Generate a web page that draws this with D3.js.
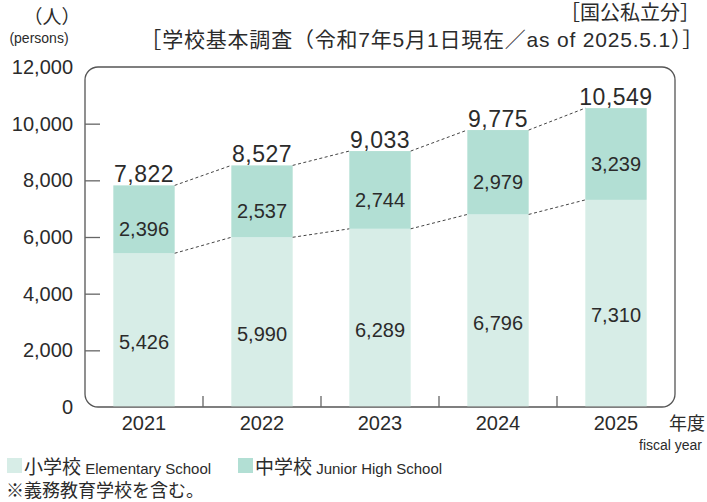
<!DOCTYPE html>
<html>
<head>
<meta charset="utf-8">
<script src="https://cdn.jsdelivr.net/npm/d3@7"></script>
<style>
  body { margin: 0; background: #fff; }
  svg text { font-family: "Liberation Sans", "Noto Sans CJK JP", sans-serif; fill: #2b2b2b; }
</style>
</head>
<body>
<svg id="chart" width="707" height="502"></svg>
<script>
const years = ['2021', '2022', '2023', '2024', '2025']
const elementary = [5426, 5990, 6289, 6796, 7310]
const junior = [2396, 2537, 2744, 2979, 3239]
const yTicks = [0, 2000, 4000, 6000, 8000, 10000, 12000]

const colors = { elementary: '#d7ede7', junior: '#b2dfd4' }

const svg = d3.select('#chart')
const frame = { left: 85, right: 675, top: 67, bottom: 407 }

const x = d3.scaleBand()
  .domain(years)
  .range([frame.left, frame.right])
  .paddingInner(0.48)
  .paddingOuter(0.24)

const y = d3.scaleLinear()
  .domain([0, 12000])
  .range([frame.bottom, frame.top])

const fmt = d3.format(',')

const rows = years.map((year, i) => ({
  year,
  elementary: elementary[i],
  junior: junior[i],
  total: elementary[i] + junior[i]
}))

// frame with rounded corners
svg.append('rect')
  .attr('x', frame.left)
  .attr('y', frame.top)
  .attr('width', frame.right - frame.left)
  .attr('height', frame.bottom - frame.top)
  .attr('rx', 13)
  .attr('fill', 'none')
  .attr('stroke', '#555')
  .attr('stroke-width', 1.3)

// y axis (ticks inward)
const yAxis = svg.append('g')
  .attr('transform', `translate(${frame.left},0)`)
  .call(d3.axisLeft(y).tickValues(yTicks).tickFormat(fmt).tickSizeInner(-15).tickSizeOuter(0).tickPadding(12))
yAxis.select('.domain').remove()
yAxis.selectAll('.tick line')
  .attr('stroke', '#666')
  .attr('stroke-width', 1.3)
  .attr('display', d => (d === 0 || d === 12000) ? 'none' : null)
yAxis.selectAll('.tick text')
  .attr('font-size', 20)
  .attr('fill', '#2b2b2b')

// x axis labels
const xAxis = svg.append('g')
  .attr('transform', `translate(0,${frame.bottom})`)
  .call(d3.axisBottom(x).tickSize(0).tickPadding(9))
xAxis.select('.domain').remove()
xAxis.selectAll('.tick text')
  .attr('font-size', 20)
  .attr('fill', '#2b2b2b')

// separators between categories
const gap = x.step() * x.paddingInner()
svg.append('g')
  .selectAll('line')
  .data(years.slice(0, -1))
  .join('line')
  .attr('x1', d => x(d) + x.bandwidth() + gap / 2)
  .attr('x2', d => x(d) + x.bandwidth() + gap / 2)
  .attr('y1', frame.bottom)
  .attr('y2', frame.bottom - 11)
  .attr('stroke', '#666')
  .attr('stroke-width', 1.3)

// bars
const bars = svg.append('g')
bars.selectAll('rect.el')
  .data(rows)
  .join('rect')
  .attr('class', 'el')
  .attr('x', d => x(d.year))
  .attr('width', x.bandwidth())
  .attr('y', d => y(d.elementary))
  .attr('height', d => y(0) - y(d.elementary) - 0.7)
  .attr('fill', colors.elementary)
bars.selectAll('rect.jr')
  .data(rows)
  .join('rect')
  .attr('class', 'jr')
  .attr('x', d => x(d.year))
  .attr('width', x.bandwidth())
  .attr('y', d => y(d.total))
  .attr('height', d => y(d.elementary) - y(d.total))
  .attr('fill', colors.junior)

// dotted connectors
const pairs = d3.pairs(rows)
;['total', 'elementary'].forEach(key => {
  svg.append('g')
    .selectAll('line')
    .data(pairs)
    .join('line')
    .attr('x1', d => x(d[0].year) + x.bandwidth())
    .attr('y1', d => y(d[0][key]))
    .attr('x2', d => x(d[1].year))
    .attr('y2', d => y(d[1][key]))
    .attr('stroke', '#444')
    .attr('stroke-width', 1)
    .attr('stroke-dasharray', '3,2.5')
})

// value labels
const labels = svg.append('g').attr('text-anchor', 'middle')
labels.selectAll('text.tot')
  .data(rows)
  .join('text')
  .attr('class', 'tot')
  .attr('x', d => x(d.year) + x.bandwidth() / 2)
  .attr('y', d => y(d.total) - 3)
  .attr('font-size', 23)
  .attr('letter-spacing', 0.5)
  .text(d => fmt(d.total))
labels.selectAll('text.jr')
  .data(rows)
  .join('text')
  .attr('class', 'jr')
  .attr('x', d => x(d.year) + x.bandwidth() / 2)
  .attr('y', d => (y(d.total) + y(d.elementary)) / 2 + 10)
  .attr('dy', '0.35em')
  .attr('font-size', 20)
  .text(d => fmt(d.junior))
labels.selectAll('text.el')
  .data(rows)
  .join('text')
  .attr('class', 'el')
  .attr('x', d => x(d.year) + x.bandwidth() / 2)
  .attr('y', d => (y(d.elementary) + y(0)) / 2 + 12)
  .attr('dy', '0.35em')
  .attr('font-size', 20)
  .text(d => fmt(d.elementary))

// titles and units
svg.append('text').attr('x', 52).attr('y', 24).attr('text-anchor', 'middle').attr('font-size', 19).text('（人）')
svg.append('text').attr('x', 39).attr('y', 43).attr('text-anchor', 'middle').attr('font-size', 14).text('(persons)')
svg.append('text').attr('x', 700).attr('y', 20).attr('text-anchor', 'end').attr('font-size', 20).text('［国公私立分］')
svg.append('text').attr('x', 704).attr('y', 47).attr('text-anchor', 'end').attr('font-size', 21).attr('letter-spacing', 0.8)
  .text('［学校基本調査（令和7年5月1日現在／as of 2025.5.1）］')
svg.append('text').attr('x', 669).attr('y', 430).attr('font-size', 18).text('年度')
svg.append('text').attr('x', 639).attr('y', 450).attr('font-size', 14).text('fiscal year')

// legend
const legend = [
  { x: 7, color: colors.elementary, ja: '小学校', en: 'Elementary School' },
  { x: 238, color: colors.junior, ja: '中学校', en: 'Junior High School' }
]
const lg = svg.append('g')
lg.selectAll('rect')
  .data(legend)
  .join('rect')
  .attr('x', d => d.x)
  .attr('y', 458)
  .attr('width', 15)
  .attr('height', 15)
  .attr('fill', d => d.color)
const lt = lg.selectAll('text')
  .data(legend)
  .join('text')
  .attr('x', d => d.x + 17)
  .attr('y', 474)
  .attr('font-size', 19)
lt.append('tspan').text(d => d.ja)
lt.append('tspan').attr('font-size', 15).text(d => ' ' + d.en)

svg.append('text').attr('x', 6).attr('y', 497).attr('font-size', 18).text('※義務教育学校を含む。')
</script>
</body>
</html>
